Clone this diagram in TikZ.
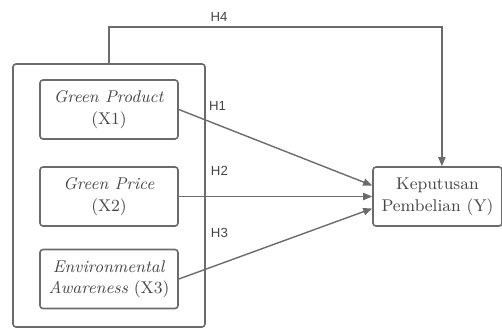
\documentclass[tikz,border=0pt]{standalone}
\usepackage{fontspec}
\newfontfamily\labelfont{Liberation Sans}
\usepackage{xcolor}
\usetikzlibrary{arrows.meta,positioning}
\definecolor{linegray}{HTML}{6B6B6B}
\definecolor{textgray}{HTML}{454545}

\begin{document}
\begin{tikzpicture}[x=0.5pt, y=-0.5pt,
      box/.style={draw=linegray, line width=0.8pt, rounded corners=1.5pt, align=center,
                  inner sep=0pt, minimum width=69pt, minimum height=29.5pt,
                  text=textgray, font=\fontsize{8.5}{10.8}\selectfont},
      group/.style={draw=linegray, line width=0.8pt, rounded corners=1.5pt,
                  minimum width=96pt, minimum height=131.5pt, inner sep=0pt},
      hyp/.style={font=\labelfont\fontsize{6.6}{7.5}\selectfont, text=textgray},
      arr/.style={-{Triangle[length=4.5pt, width=3.6pt]}, draw=linegray, line width=0.7pt}]
    \useasboundingbox (0,0) rectangle (502,329);
    % independent variables
    \node[group] (vars) at (109,195.5) {};
    \node[box] (x1) at (109,109.5) {\textit{Green Product}\\(X1)};
    \node[box] (x2) at (109,196.5) {\textit{Green Price}\\(X2)};
    \node[box] (x3) at (109,279) {\textit{Environmental}\\\textit{Awareness} (X3)};
    % dependent variable
    \node[box, minimum width=64.5pt] (y) at (437.5,196.5) {Keputusan\\Pembelian (Y)};
    \draw[arr] (x1.east) -- node[hyp, pos=0.2, above=3.5pt] {H1} ([yshift=5.5pt]y.west);
    \draw[arr] (x2.east) -- node[hyp, pos=0.21, above=7pt] {H2} (y.west);
    \draw[arr] (x3.east) -- node[hyp, pos=0.21, above=9.5pt] {H3} ([yshift=-6pt]y.west);
    % joint effect
    \coordinate (top) at (0,27);
    \coordinate (yin) at ([xshift=2.2pt]y.north);
    \draw[arr] (vars.north) |- (yin |- top) -- (yin);
    \node[hyp] (h4) at (219,17) {H4};
  \end{tikzpicture}
\end{document}
